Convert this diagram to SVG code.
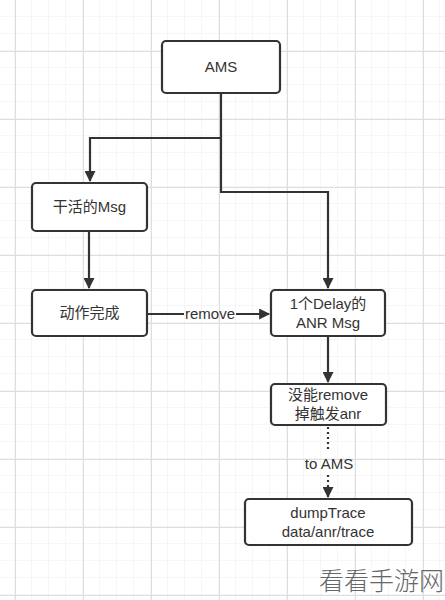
<svg xmlns="http://www.w3.org/2000/svg" width="445" height="600" viewBox="0 0 445 600">
<style>
.box{fill:#fff;stroke:#333;stroke-width:2.2}
.t{font-family:"Liberation Sans","Noto Sans CJK SC",sans-serif;font-size:15px;fill:#333;text-anchor:middle}
.ln{fill:none;stroke:#333;stroke-width:2.2}
.dot{fill:none;stroke:#333;stroke-width:2.2;stroke-dasharray:2 3}
</style>
<defs>
<pattern id="minor" x="-2" y="0" width="17" height="17" patternUnits="userSpaceOnUse">
<path d="M17 0V17M0 17H17" fill="none" stroke="#ececec" stroke-width="1"/>
</pattern>
<pattern id="major" x="15" y="51" width="68" height="68" patternUnits="userSpaceOnUse">
<path d="M0.5 0V68M0 0.5H68" fill="none" stroke="#dedede" stroke-width="1"/>
</pattern>
<marker id="ah" viewBox="0 0 10 10" refX="9" refY="5" markerWidth="5.5" markerHeight="5" orient="auto" markerUnits="strokeWidth">
<path d="M0 0L10 5L0 10Z" fill="#333"/>
</marker>
</defs>
<rect width="445" height="600" fill="#fff"/>
<rect width="445" height="600" fill="url(#minor)"/>
<rect width="445" height="600" fill="url(#major)"/>
<g id="connectors">
<path class="ln" d="M221 93V192H328V288" marker-end="url(#ah)"/>
<path class="ln" d="M221 138H90V181" marker-end="url(#ah)"/>
<path class="ln" d="M89 231V288" marker-end="url(#ah)"/>
<path class="ln" d="M147 314H184"/>
<path class="ln" d="M236 314H269" marker-end="url(#ah)"/>
<text class="t" x="210" y="319">remove</text>
<path class="dot" d="M328 427V452"/>
<path class="dot" d="M328 475V486"/>
<path class="ln" d="M328 486V497" marker-end="url(#ah)"/>
<path class="ln" d="M328 336V382" marker-end="url(#ah)"/>
<text class="t" x="329" y="469">to AMS</text>
</g>
<g id="ams"><rect class="box" x="162" y="41" width="118" height="52" rx="4"/><text class="t" x="221" y="72">AMS</text></g>
<g id="work"><rect class="box" x="32" y="183" width="115" height="48" rx="4"/><text class="t" x="89.5" y="212">干活的Msg</text></g>
<g id="done"><rect class="box" x="32" y="290" width="115" height="46" rx="4"/><text class="t" x="89.5" y="318">动作完成</text></g>
<g id="delay"><rect class="box" x="271" y="290" width="114" height="46" rx="4"/><text class="t" x="328" y="309">1个Delay的</text><text class="t" x="328" y="328">ANR Msg</text></g>
<g id="notremoved"><rect class="box" x="271" y="384" width="115" height="41" rx="4"/><text class="t" x="328" y="400">没能remove</text><text class="t" x="328" y="419">掉触发anr</text></g>
<g id="dump"><rect class="box" x="245" y="499" width="167" height="46" rx="4"/><text class="t" x="328" y="518">dumpTrace</text><text class="t" x="328" y="537">data/anr/trace</text></g>
<text x="444" y="590" font-family="'Noto Sans CJK SC',sans-serif" font-size="25" font-weight="300" fill="#666" text-anchor="end">看看手游网</text>
</svg>
